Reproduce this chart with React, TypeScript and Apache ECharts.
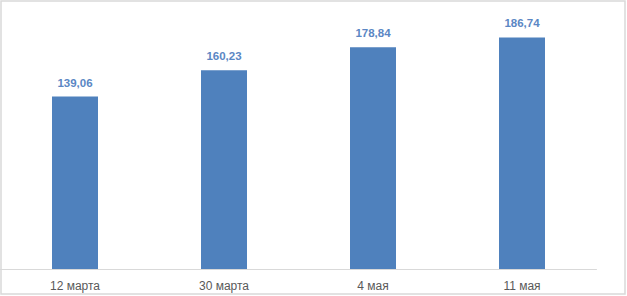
import React, { useEffect, useRef } from "react";
import * as echarts from "echarts";

const categories = ["12 марта", "30 марта", "4 мая", "11 мая"];
const values = [139.06, 160.23, 178.84, 186.74];

export default function App() {
  const ref = useRef<HTMLDivElement>(null);
  useEffect(() => {
    const chart = echarts.init(ref.current!, null, { renderer: "svg" });
    chart.setOption({
      animation: false,
      backgroundColor: "#ffffff",
      graphic: [
        {
          type: "rect",
          shape: { x: 1, y: 1, width: 624, height: 293 },
          style: { fill: "none", stroke: "#d9d9d9", lineWidth: 1.5 },
          silent: true,
        },
      ],
      grid: { left: 0.5, right: 30.5, top: 21, bottom: 27, containLabel: false },
      xAxis: {
        type: "category",
        data: categories,
        axisLine: { show: true, lineStyle: { color: "#d9d9d9", width: 1 } },
        axisTick: { show: false },
        axisLabel: {
          color: "#595959",
          fontFamily: "Liberation Sans",
          fontSize: 12,
          margin: 11,
        },
      },
      yAxis: {
        type: "value",
        min: 0,
        max: 200,
        show: false,
        splitLine: { show: false },
      },
      series: [
        {
          type: "bar",
          data: values,
          barWidth: 46,
          itemStyle: { color: "#4f81bd" },
          label: {
            show: true,
            position: "top",
            distance: 8,
            formatter: (p: any) => p.value.toFixed(2).replace(".", ","),
            color: "#5b87c4",
            fontWeight: "bold",
            fontFamily: "Liberation Sans",
            fontSize: 11.5,
          },
        },
      ],
    });
    return () => chart.dispose();
  }, []);
  return (
    <div
      ref={ref}
      style={{ position: "fixed", left: 0, top: 0, width: 627, height: 296 }}
    />
  );
}
